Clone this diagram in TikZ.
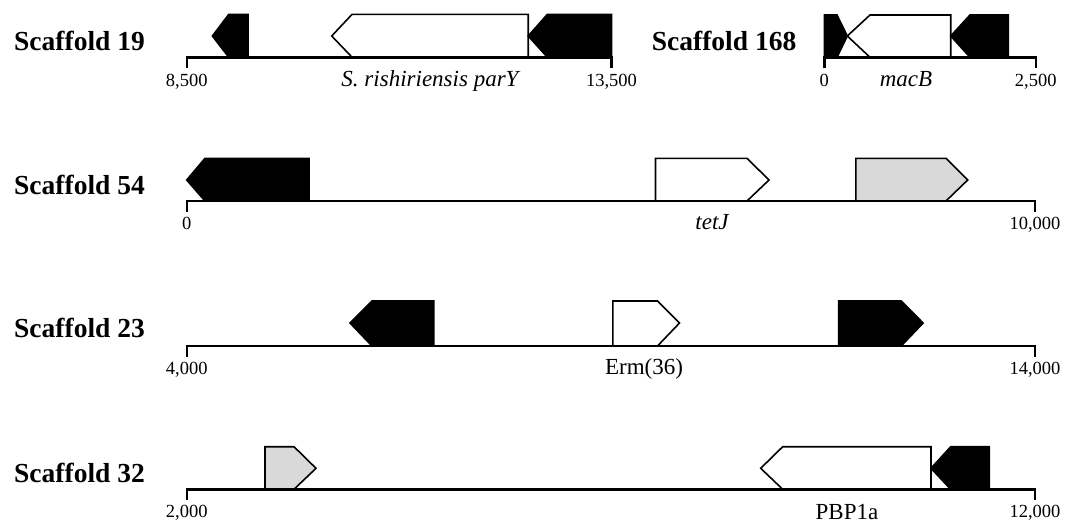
\documentclass[tikz,border=0pt]{standalone}
\usepackage{fontspec}
\setmainfont{Liberation Serif}
\usetikzlibrary{positioning}

\begin{document}
\begin{tikzpicture}[x=1pt,y=-1pt]
	\tikzstyle{Axis}	= [line width=2.4pt, line cap=butt]
	\tikzstyle{Gene}	= [draw=black, line width=1.6pt, line join=miter]
	\tikzstyle{Dark}	= [fill=black]
	\tikzstyle{Blank}	= [fill=white]
	\tikzstyle{Light}	= [fill=gray!30]
	\tikzstyle{Name}	= [inner sep=0pt, anchor=base west, font=\bfseries\fontsize{27.5}{30}\selectfont]
	\tikzstyle{Pos}		= [inner sep=0pt, anchor=base, font=\fontsize{18.5}{22}\selectfont]
	\tikzstyle{Locus}	= [inner sep=0pt, anchor=base, font=\fontsize{23}{26}\selectfont]

	\useasboundingbox (0,0) rectangle (1076,525);

	% Scaffold 19
	\node (s19) at (14,50) [Name] {Scaffold 19};
	\draw [Gene][Dark]  (212.4,36) -- (228.8,14.3) -- (248,14.3) -- (248,57.3) -- (228.8,57.3) -- cycle;
	\draw [Gene][Blank] (331.7,36) -- (352.1,14.3) -- (528.2,14.3) -- (528.2,57.3) -- (352.1,57.3) -- cycle;
	\draw [Gene][Dark]  (528.2,36) -- (547.4,14.3) -- (611.5,14.3) -- (611.5,57.3) -- (547.4,57.3) -- cycle;
	\draw [Axis] (186.7,68.3) -- (186.7,57.3) -- (611.5,57.3) -- (611.5,68.3);
	\node (s19a) at (186.7,86) [Pos] {8,500};
	\node (s19b) at (611.5,86) [Pos] {13,500};
	\node (s19g) at (430,86) [Locus] {\itshape S. rishiriensis parY};

	% Scaffold 168
	\node (s168) at (651.7,50) [Name] {Scaffold 168};
	\draw [Gene][Dark]  (824.3,15) -- (837,15) -- (847.3,36) -- (837,57.3) -- (824.3,57.3) -- cycle;
	\draw [Gene][Blank] (847.3,36) -- (870,15) -- (950.7,15) -- (950.7,57.3) -- (870,57.3) -- cycle;
	\draw [Gene][Dark]  (950.7,36) -- (970,15) -- (1008.3,15) -- (1008.3,57.3) -- (970,57.3) -- cycle;
	\draw [Axis] (824.3,68.3) -- (824.3,57.3) -- (1035.7,57.3) -- (1035.7,68.3);
	\node (s168a) at (824.3,86) [Pos] {0};
	\node (s168b) at (1035.7,86) [Pos] {2,500};
	\node (s168g) at (906,86) [Locus] {\itshape macB};

	% Scaffold 54
	\node (s54) at (14,194) [Name] {Scaffold 54};
	\draw [Gene][Dark]  (186.7,180) -- (205,158.3) -- (309,158.3) -- (309,201) -- (205,201) -- cycle;
	\draw [Gene][Blank] (655.5,158.3) -- (747,158.3) -- (769,180) -- (747,201) -- (655.5,201) -- cycle;
	\draw [Gene][Light] (855.9,158.3) -- (946,158.3) -- (967.7,180) -- (946,201) -- (855.9,201) -- cycle;
	\draw [Axis] (186.7,212) -- (186.7,201) -- (1035,201) -- (1035,212);
	\node (s54a) at (186.7,229) [Pos] {0};
	\node (s54b) at (1035,229) [Pos] {10,000};
	\node (s54g) at (712,229) [Locus] {\itshape tetJ};

	% Scaffold 23
	\node (s23) at (14,337) [Name] {Scaffold 23};
	\draw [Gene][Dark]  (350,323) -- (372,301) -- (433.8,301) -- (433.8,346) -- (372,346) -- cycle;
	\draw [Gene][Blank] (612.9,301) -- (657.5,301) -- (679.5,323) -- (657.5,346) -- (612.9,346) -- cycle;
	\draw [Gene][Dark]  (838.7,301) -- (901.2,301) -- (923.1,323) -- (901.2,346) -- (838.7,346) -- cycle;
	\draw [Axis] (186.7,357) -- (186.7,346) -- (1035,346) -- (1035,357);
	\node (s23a) at (186.7,374) [Pos] {4,000};
	\node (s23b) at (1035,374) [Pos] {14,000};
	\node (s23g) at (644,374) [Locus] {Erm(36)};

	% Scaffold 32
	\node (s32) at (14,482) [Name] {Scaffold 32};
	\draw [Gene][Light] (265,446.7) -- (294,446.7) -- (316,468.3) -- (294,489.3) -- (265,489.3) -- cycle;
	\draw [Gene][Blank] (760.7,468.3) -- (782.7,446.7) -- (931,446.7) -- (931,489.3) -- (782.7,489.3) -- cycle;
	\draw [Gene][Dark]  (931,468.3) -- (950.7,446.7) -- (989.3,446.7) -- (989.3,489.3) -- (950.7,489.3) -- cycle;
	\draw [Axis] (186.7,500.3) -- (186.7,489.3) -- (1035,489.3) -- (1035,500.3);
	\node (s32a) at (186.7,517.5) [Pos] {2,000};
	\node (s32b) at (1035,517.5) [Pos] {12,000};
	\node (s32g) at (847,519) [Locus] {PBP1a};
\end{tikzpicture}
\end{document}
